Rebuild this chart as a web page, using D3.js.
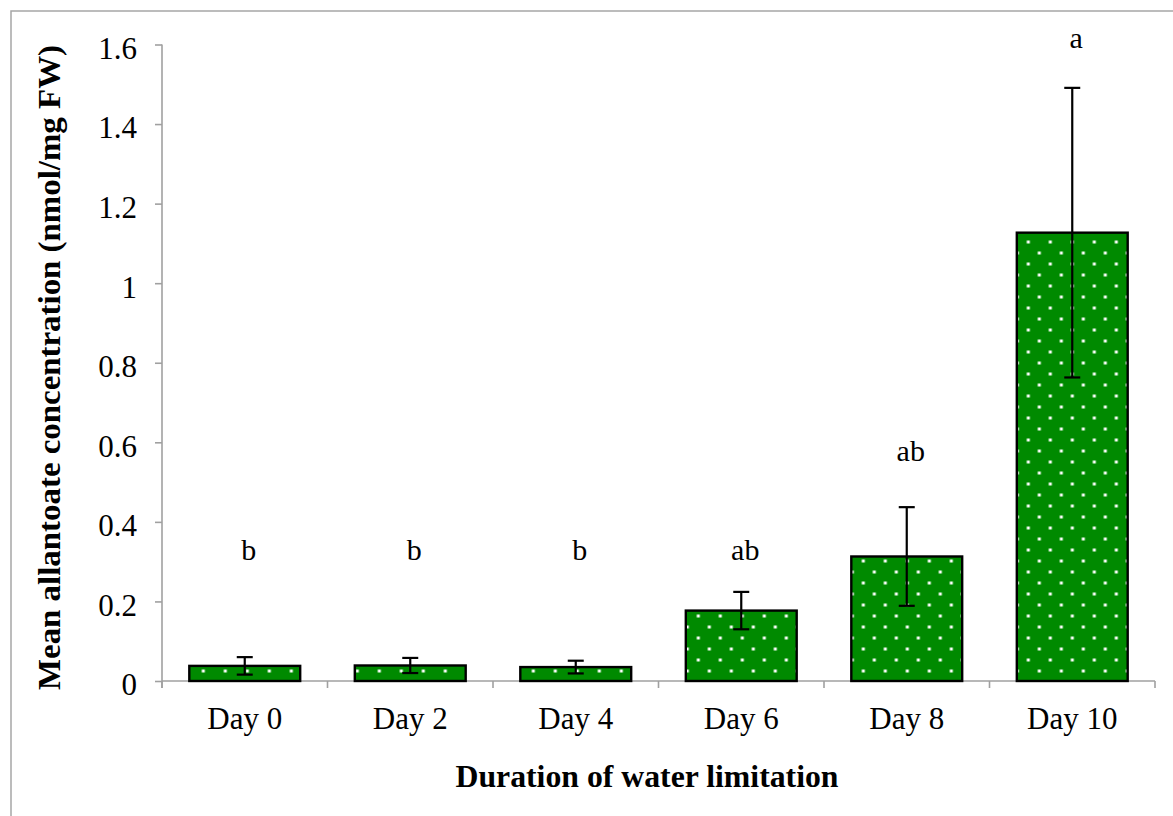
<!DOCTYPE html>
<html>
<head>
<meta charset="utf-8">
<script src="https://cdn.jsdelivr.net/npm/d3@7"></script>
<style>
  html, body { margin: 0; padding: 0; background: #fff; }
  svg { display: block; }
  svg text { font-family: "Liberation Serif", "Times New Roman", Times, serif; fill: #000; }
</style>
</head>
<body>
<svg id="chart" width="1173" height="816"></svg>
<script>
// Allantoate concentration over days of water limitation
const days = ["Day 0", "Day 2", "Day 4", "Day 6", "Day 8", "Day 10"];
const meanValues = [0.038, 0.039, 0.035, 0.177, 0.313, 1.127];
const errValues = [0.022, 0.019, 0.016, 0.047, 0.124, 0.364];
const groupLetters = ["b", "b", "b", "ab", "ab", "a"];
const letterAt = [0.304, 0.304, 0.304, 0.304, 0.553, 1.59];
const yTicks = [0, 0.2, 0.4, 0.6, 0.8, 1, 1.2, 1.4, 1.6];

const serif = '"Liberation Serif", "Times New Roman", Times, serif';
const svg = d3.select("#chart");
const plot = { left: 162, right: 1155, top: 44.5, bottom: 681 };

const x = d3.scaleBand()
  .domain(days)
  .range([plot.left, plot.right])
  .paddingInner(0.33)
  .paddingOuter(0.165);

const y = d3.scaleLinear()
  .domain([0, 1.6])
  .range([plot.bottom, plot.top]);

// Outer frame
svg.append("rect")
  .attr("x", 11).attr("y", 11)
  .attr("width", 1200).attr("height", 900)
  .attr("fill", "none")
  .attr("stroke", "#a6a6a6")
  .attr("stroke-width", 1.5);

// Dotted fill for the bars
const defs = svg.append("defs");
const pat = defs.append("pattern")
  .attr("id", "dots")
  .attr("patternUnits", "userSpaceOnUse")
  .attr("width", 22).attr("height", 22)
  .attr("patternTransform", "translate(5.3,11)");
pat.append("rect").attr("width", 22).attr("height", 22).attr("fill", "#008a00");
[[0, 0], [22, 0], [0, 22], [22, 22], [11, 11]].forEach(([cx, cy]) => {
  pat.append("rect")
    .attr("x", cx - 1.5).attr("y", cy - 1.5)
    .attr("width", 3).attr("height", 3)
    .attr("fill", "#ffffff");
});

// Y axis
const yAxis = d3.axisLeft(y)
  .tickValues(yTicks)
  .tickFormat(d => d3.format("")(d))
  .tickSize(7)
  .tickPadding(0);
const gy = svg.append("g")
  .attr("transform", `translate(${plot.left},0)`)
  .call(yAxis)
  .attr("font-family", serif);
gy.select(".domain").remove();
gy.append("line")
  .attr("x1", 0).attr("x2", 0)
  .attr("y1", plot.top).attr("y2", plot.bottom + 7)
  .attr("stroke", "#a0a0a0").attr("stroke-width", 1.6);
gy.selectAll(".tick line").attr("stroke", "#a0a0a0").attr("stroke-width", 1.6);
gy.selectAll(".tick text")
  .attr("font-size", 31)
  .attr("dy", null)
  .attr("x", -25)
  .attr("y", 13.8);

// X axis with ticks on category boundaries
const gx = svg.append("g")
  .attr("transform", `translate(0,${plot.bottom})`);
gx.append("line")
  .attr("x1", plot.left).attr("x2", plot.right)
  .attr("y1", 0).attr("y2", 0)
  .attr("stroke", "#a0a0a0").attr("stroke-width", 1.6);
const boundaries = days.map(d => x(d) - x.step() * x.paddingInner() / 2).concat([plot.right]);
gx.selectAll("line.bt")
  .data(boundaries)
  .join("line")
  .attr("class", "bt")
  .attr("x1", d => d).attr("x2", d => d)
  .attr("y1", 0).attr("y2", 7)
  .attr("stroke", "#a0a0a0").attr("stroke-width", 1.6);
gx.selectAll("text.cat")
  .data(days)
  .join("text")
  .attr("class", "cat")
  .attr("x", d => x(d) + x.bandwidth() / 2)
  .attr("y", 48)
  .attr("text-anchor", "middle")
  .attr("font-size", 31)
  .style("font-family", serif)
  .text(d => d);

// Bars
const data = days.map((d, i) => ({ day: d, mean: meanValues[i], err: errValues[i], letter: groupLetters[i], at: letterAt[i] }));

svg.append("g").selectAll("rect")
  .data(data)
  .join("rect")
  .attr("x", d => x(d.day))
  .attr("y", d => y(d.mean))
  .attr("width", x.bandwidth())
  .attr("height", d => y(0) - y(d.mean))
  .attr("fill", "url(#dots)")
  .attr("stroke", "#000")
  .attr("stroke-width", 2.4);

// Error bars
const eb = svg.append("g").selectAll("g")
  .data(data)
  .join("g")
  .attr("transform", d => `translate(${x(d.day) + x.bandwidth() / 2},0)`);
eb.append("line")
  .attr("y1", d => y(d.mean + d.err)).attr("y2", d => y(d.mean - d.err))
  .attr("stroke", "#000").attr("stroke-width", 2.2);
eb.append("line")
  .attr("x1", -8).attr("x2", 8)
  .attr("y1", d => y(d.mean + d.err)).attr("y2", d => y(d.mean + d.err))
  .attr("stroke", "#000").attr("stroke-width", 2.2);
eb.append("line")
  .attr("x1", -8).attr("x2", 8)
  .attr("y1", d => y(d.mean - d.err)).attr("y2", d => y(d.mean - d.err))
  .attr("stroke", "#000").attr("stroke-width", 2.2);

// Significance letters
svg.append("g").selectAll("text")
  .data(data)
  .join("text")
  .attr("x", d => x(d.day) + x.bandwidth() / 2 + 4)
  .attr("y", d => y(d.at))
  .attr("text-anchor", "middle")
  .attr("font-size", 30)
  .style("font-family", serif)
  .text(d => d.letter);

// Axis titles
svg.append("text")
  .attr("x", 647).attr("y", 787)
  .attr("text-anchor", "middle")
  .attr("font-size", 31)
  .attr("font-weight", "bold")
  .attr("textLength", 383)
  .attr("lengthAdjust", "spacingAndGlyphs")
  .style("font-family", serif)
  .text("Duration of water limitation");

svg.append("text")
  .attr("transform", "translate(60,367.5) rotate(-90)")
  .attr("text-anchor", "middle")
  .attr("font-size", 31)
  .attr("font-weight", "bold")
  .attr("textLength", 645)
  .attr("lengthAdjust", "spacingAndGlyphs")
  .style("font-family", serif)
  .text("Mean allantoate concentration (nmol/mg FW)");
</script>
</body>
</html>
